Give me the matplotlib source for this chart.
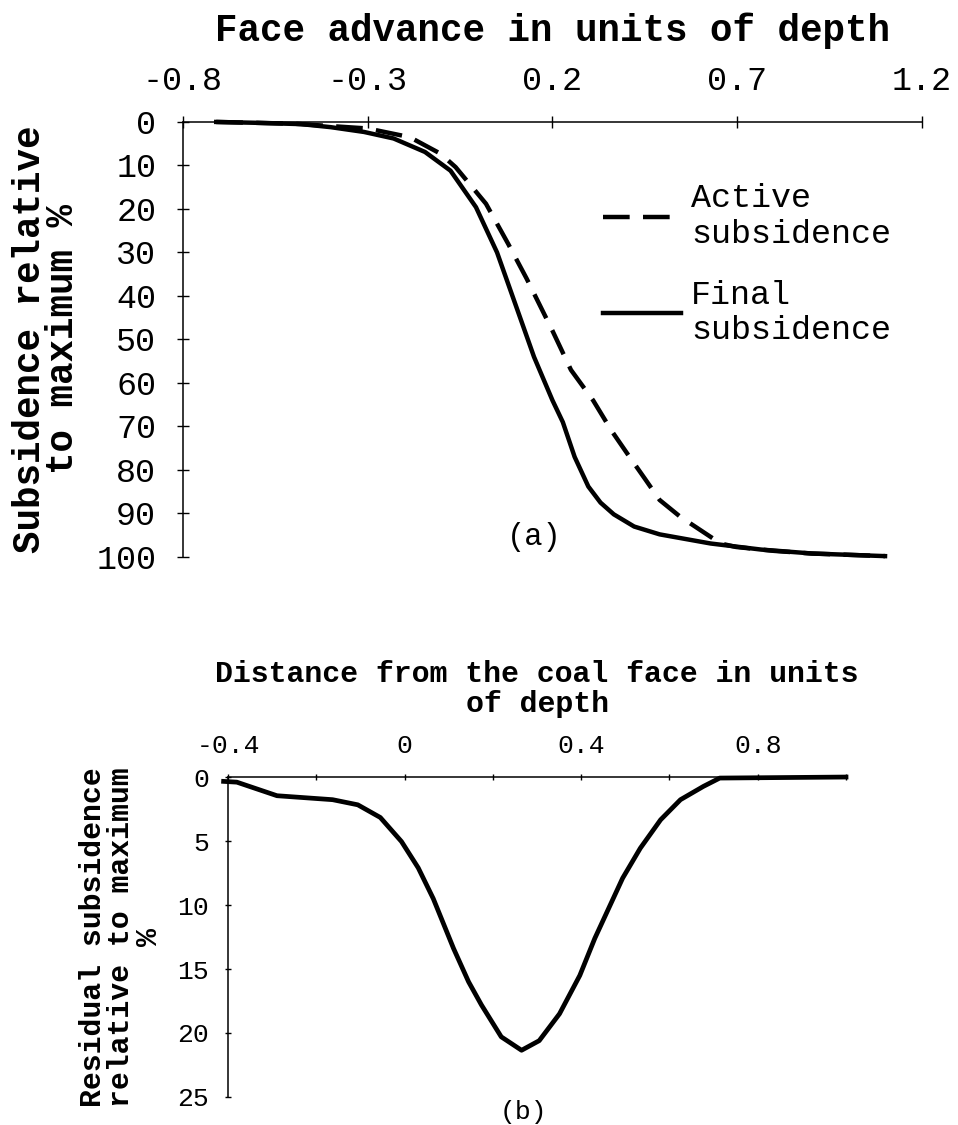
import matplotlib
matplotlib.use("Agg")
import matplotlib.pyplot as plt
from matplotlib.ticker import MultipleLocator

# Panel (a): face advance (units of depth) vs subsidence relative to maximum (%)
avance_final = [-0.71, -0.6, -0.48, -0.4, -0.31, -0.23, -0.145, -0.076, -0.007,
                0.05, 0.1, 0.15, 0.2, 0.228, 0.26, 0.297, 0.33, 0.366, 0.421,
                0.49, 0.628, 0.765, 0.903, 1.1]
final = [0.0, 0.2, 0.5, 1.2, 2.3, 3.8, 6.9, 11.2, 19.6,
         30, 42, 54, 64, 69, 77, 83.8, 87.5, 90.2, 93,
         94.8, 96.9, 98.3, 99.2, 99.8]

avance_activa = [-0.71, -0.5, -0.3, -0.186, -0.103, -0.062, 0.02, 0.08, 0.13,
                 0.2, 0.25, 0.31, 0.36, 0.407, 0.45, 0.49, 0.545, 0.6, 0.655,
                 0.697, 0.8, 0.9, 1.1]
activa = [0.0, 0.4, 1.5, 3.5, 7.3, 10.4, 18.8, 28, 36,
          48, 57, 64, 71, 76.8, 82, 86.9, 90.7, 93.8, 96.9,
          97.7, 98.6, 99.2, 99.8]

# Panel (b): distance from the coal face vs residual subsidence (%)
distancia = [-0.41, -0.38, -0.289, -0.163, -0.106, -0.055, -0.007, 0.031, 0.065,
             0.111, 0.145, 0.174, 0.219, 0.265, 0.305, 0.351, 0.397, 0.431,
             0.494, 0.534, 0.58, 0.625, 0.677, 0.714, 1.0]
residual = [0.34, 0.4, 1.46, 1.77, 2.17, 3.16, 5.04, 7.1, 9.5,
            13.4, 16.0, 17.8, 20.3, 21.35, 20.6, 18.5, 15.5, 12.6,
            7.9, 5.56, 3.34, 1.77, 0.73, 0.08, 0.0]

MONO = "Liberation Mono"


def estilo_ejes(ax, largo_tick):
    # solo se ven el eje izquierdo y la linea de y=0 arriba
    ax.spines["right"].set_visible(False)
    ax.spines["bottom"].set_visible(False)
    ax.spines["left"].set_linewidth(1.1)
    ax.spines["top"].set_linewidth(1.1)
    ax.xaxis.tick_top()
    ax.xaxis.set_label_position("top")
    ax.tick_params(which="both", direction="inout", length=largo_tick, width=1.0)


def main():
    fig = plt.figure(figsize=(9.58, 11.25), dpi=100)

    # --- panel (a) ---
    ax1 = fig.add_axes([0.1910, 0.5049, 0.7714, 0.3867])
    ax1.plot(avance_activa, activa, color="black", lw=3.2,
             linestyle=(0, (6, 3)), label="Active\nsubsidence", clip_on=False)
    ax1.plot(avance_final, final, color="black", lw=3.2,
             label="Final\nsubsidence", clip_on=False)
    ax1.set_xlim(-0.8, 1.2)
    ax1.set_ylim(100, 0)
    ax1.set_xticks([-0.8, -0.3, 0.2, 0.7, 1.2])
    ax1.set_xticklabels(["-0.8", "-0.3", "0.2", "0.7", "1.2"])
    ax1.set_yticks(range(0, 101, 10))
    estilo_ejes(ax1, 12 / 1.389)
    ax1.tick_params(axis="x", pad=14, labelsize=24)
    ax1.tick_params(axis="y", pad=15, labelsize=24)
    for t in ax1.get_xticklabels() + ax1.get_yticklabels():
        t.set_family(MONO)
    ax1.set_xlabel("Face advance in units of depth", family=MONO,
                   fontweight="bold", fontsize=27, labelpad=18)
    fig.text(46.5 / 958, 1 - 339 / 1125, "Subsidence relative\nto maximum %",
             family=MONO, fontweight="bold", fontsize=27, rotation=90,
             ha="center", va="center", multialignment="center", linespacing=0.9)
    ax1.text(0.15, 95.4, "(a)", family=MONO, fontsize=22, ha="center", va="center")
    ax1.legend(loc="upper left", bbox_to_anchor=(0.568, 0.86), frameon=False,
               prop={"family": MONO, "size": 24}, handlelength=2.35,
               handletextpad=0.3, labelspacing=0.9, borderpad=0, borderaxespad=0)

    # --- panel (b) ---
    ax2 = fig.add_axes([0.2380, 0.0249, 0.6451, 0.2844])
    ax2.plot(distancia, residual, color="black", lw=3.4, clip_on=False)
    ax2.set_xlim(-0.4, 1.0)
    ax2.set_ylim(25, 0)
    ax2.xaxis.set_major_locator(MultipleLocator(0.4))
    ax2.xaxis.set_minor_locator(MultipleLocator(0.2))
    ax2.set_xticks([-0.4, 0.0, 0.4, 0.8])
    ax2.set_xticklabels(["-0.4", "0", "0.4", "0.8"])
    ax2.set_yticks(range(0, 26, 5))
    estilo_ejes(ax2, 7 / 1.389)
    ax2.tick_params(axis="x", pad=11, labelsize=19)
    ax2.tick_params(axis="y", pad=11, labelsize=19)
    for t in ax2.get_xticklabels() + ax2.get_yticklabels():
        t.set_family(MONO)
    ax2.set_xlabel("Distance from the coal face in units\nof depth", family=MONO,
                   fontweight="bold", fontsize=21.5, labelpad=16, linespacing=1.1)
    fig.text(121 / 958, 1 - 937 / 1125, "Residual subsidence\nrelative to maximum\n%",
             family=MONO, fontweight="bold", fontsize=21.5, rotation=90,
             ha="center", va="center", multialignment="center", linespacing=1.0)
    ax2.text(0.27, 26.2, "(b)", family=MONO, fontsize=19, ha="center",
             va="center", clip_on=False)

    fig.savefig("out.png", dpi=100)


if __name__ == "__main__":
    main()
